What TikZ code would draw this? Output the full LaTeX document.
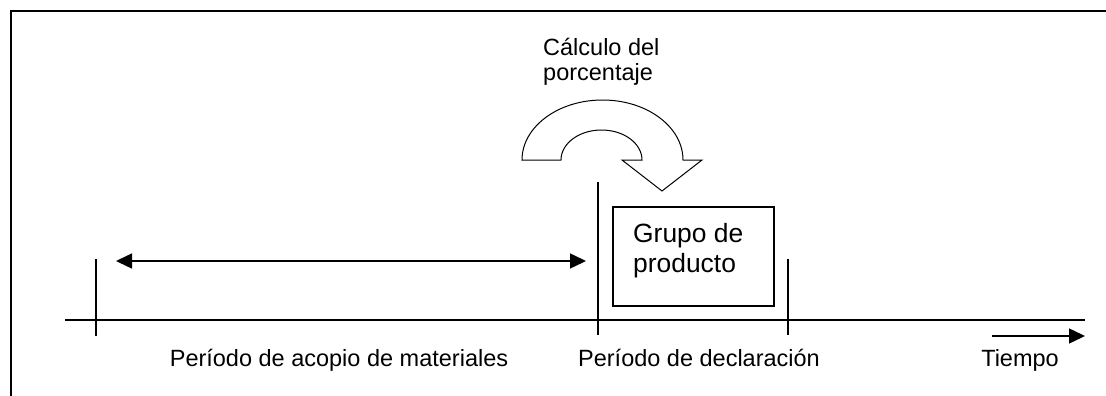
\documentclass[tikz,border=0pt]{standalone}
\usepackage{fontspec}
\setmainfont{Liberation Sans}
\usetikzlibrary{arrows.meta}
\tikzset{
  frameline/.style={line width=2pt},
  axisline/.style={line width=2pt},
  tickline/.style={line width=1.8pt},
  arrline/.style={line width=1.5pt, -{Triangle[length=16pt,width=15pt]}},
  darrline/.style={line width=1.5pt, {Triangle[length=16pt,width=15pt]}-{Triangle[length=16pt,width=15pt]}},
  lbl/.style={inner sep=0pt, anchor=base, font=\fontsize{23.5}{27}\selectfont},
  lblw/.style={inner sep=0pt, anchor=base west, font=\fontsize{23.5}{27}\selectfont},
  boxlbl/.style={inner sep=0pt, anchor=base west, font=\fontsize{26.4}{30}\selectfont},
  grpbox/.style={draw, line width=2pt, inner sep=0pt},
  bentarrow/.style={draw, line width=1pt, fill=white}
}
\begin{document}
\begin{tikzpicture}[x=1pt,y=-1pt]
\useasboundingbox (0,0) rectangle (1106,396);
% frame
\coordinate (fbl) at (11,397);
\coordinate (ftl) at (11,11);
\coordinate (ftr) at (1107,11);
\draw[frameline] (fbl) -- (ftl) -- (ftr);
% axis
\coordinate (ax0) at (65,320);
\coordinate (ax1) at (1085,320);
\draw[axisline] (ax0) -- (ax1);
% ticks
\coordinate (t1a) at (96,259); \coordinate (t1b) at (96,336);
\coordinate (t2a) at (598,182); \coordinate (t2b) at (598,335);
\coordinate (t3a) at (788,259); \coordinate (t3b) at (788,335);
\draw[tickline] (t1a) -- (t1b);
\draw[tickline] (t2a) -- (t2b);
\draw[tickline] (t3a) -- (t3b);
% double arrow
\coordinate (da0) at (116,261);
\coordinate (da1) at (586,261);
\draw[darrline] (da0) -- (da1);
% time arrow
\coordinate (ta0) at (992,336);
\coordinate (ta1) at (1085,336);
\draw[arrline] (ta0) -- (ta1);
% box
\node[grpbox, minimum width=161pt, minimum height=99pt, anchor=north west] (box) at (612,206) {};
\node[boxlbl] (g1) at (633,242) {Grupo de};
\node[boxlbl] (g2) at (633,272) {producto};
% bent arrow
\path[bentarrow] (522,160) arc[start angle=180, end angle=360, x radius=80.5, y radius=60]
  -- (702,160) -- (662,191) -- (622,160) -- (642,160)
  arc[start angle=0, end angle=-180, x radius=40.5, y radius=30] -- cycle;
\node[lblw] (c1) at (543,56) {Cálculo del};
\node[lblw] (c2) at (543,81) {porcentaje};
% labels
\node[lbl] (p1) at (339,366) {Período de acopio de materiales};
\node[lbl] (p2) at (699,366) {Período de declaración};
\node[lbl] (tm) at (1020,366) {Tiempo};
\end{tikzpicture}
\end{document}
